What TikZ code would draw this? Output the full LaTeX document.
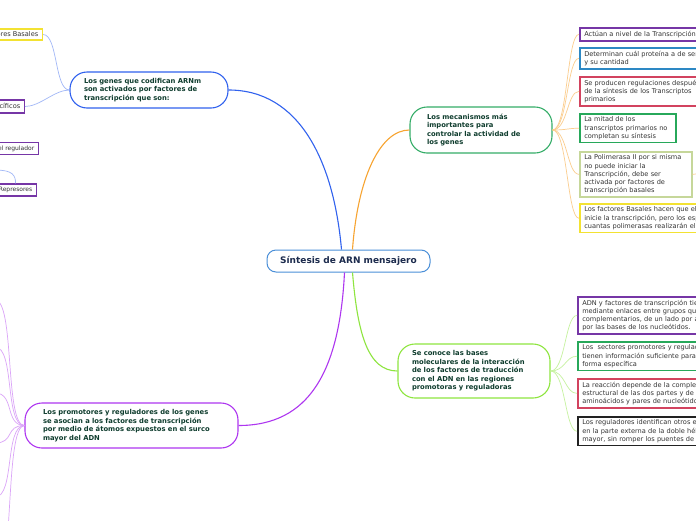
\documentclass[tikz,border=0pt]{standalone}
\usepackage{fontspec}
\setmainfont{DejaVu Sans}
\usepackage{xcolor}
\usetikzlibrary{positioning}
\definecolor{txtcol}{HTML}{333333}
\definecolor{topiccol}{HTML}{0F3D2E}
\definecolor{rootcol}{HTML}{1C2B4D}
\definecolor{rootline}{HTML}{4A8FD8}
\definecolor{bluecol}{HTML}{3162EE}
\definecolor{orangecol}{HTML}{F7A431}
\definecolor{limecol}{HTML}{8EE53F}
\definecolor{violetcol}{HTML}{AE36F0}
\definecolor{greencol}{HTML}{35AD68}
\definecolor{purplecol}{HTML}{7636A6}
\definecolor{skycol}{HTML}{2D88C4}
\definecolor{redcol}{HTML}{D2435F}
\definecolor{mintcol}{HTML}{27A85A}
\definecolor{olivecol}{HTML}{C6D79A}
\definecolor{yellowcol}{HTML}{F3E232}
\definecolor{blackcol}{HTML}{222222}

\begin{document}
\begin{tikzpicture}[
  x=1pt, y=-1pt,
  root/.style={
    draw=rootline, fill=white, line width=1pt,
    rounded corners=9pt, minimum width=163pt, minimum height=22pt,
    font=\fontsize{9}{11}\selectfont\bfseries, text=rootcol,
  },
  topic/.style={
    draw=#1, fill=white, line width=1.1pt,
    rounded corners=17pt, align=left,
    font=\fontsize{6.8}{8.5}\selectfont\bfseries, text=topiccol,
  },
  leaf/.style={
    draw=#1, fill=white, line width=1.5pt,
    inner xsep=4.5pt, inner ysep=3.2pt, anchor=north west, align=left,
    text width=150pt, font=\fontsize{6.6}{8.1}\selectfont, text=txtcol,
  },
  sideleaf/.style={
    draw=#1, fill=white, line width=1.5pt,
    inner xsep=4pt, inner ysep=3pt, anchor=east,
    font=\fontsize{6.6}{8}\selectfont, text=txtcol,
  },
  main/.style={draw=#1, line width=1.1pt},
  twig/.style={draw=#1, line width=0.7pt},
]

\useasboundingbox (0,0) rectangle (696,520);
\fill[white] (0,0) rectangle (696,520);
\clip (0,0) rectangle (696,520);

% =================== ROOT ===================
\node[root] (root) at (348.5,261) {Síntesis de ARN mensajero};

% =================== TOPICS ===================
\node[topic=bluecol, text width=130pt, inner xsep=14pt, minimum height=36pt] (genes) at (149,90)
  {Los genes que codifican ARNm\\son activados por factores de\\transcripción que son:};
\node[topic=greencol, text width=108pt, inner xsep=17pt, minimum height=46pt] (meca) at (481,130)
  {Los mecanismos más\\importantes para\\controlar la actividad de\\los genes};
\node[topic=limecol, text width=124pt, inner xsep=14pt, minimum height=54pt] (bases) at (474,371)
  {Se conoce las bases\\moleculares de la interacción\\de los factores de traducción\\con el ADN en las regiones\\promotoras y reguladoras};
\node[topic=violetcol, text width=177pt, inner xsep=18pt, minimum height=45pt] (promo) at (131.5,425.5)
  {Los promotores y reguladores de los genes\\se asocian a los factores de transcripción\\por medio de átomos expuestos en el surco\\mayor del ADN};

\draw[main=bluecol] ([xshift=-7pt]root.north) .. controls +(-8,-90) and +(70,0) .. (genes.east);
\draw[main=orangecol] ([xshift=4pt]root.north) .. controls +(5,-70) and +(-30,0) .. (meca.west);
\draw[main=limecol] ([xshift=4pt]root.south) .. controls +(5,60) and +(-30,0) .. (bases.west);
\draw[main=violetcol] ([xshift=-4pt]root.south) .. controls +(-5,100) and +(70,0) .. (promo.east);

% =================== MECANISMOS ===================
\node[leaf=purplecol] (meca1) at (579,27) {Actúan a nivel de la Transcripción};
\node[leaf=skycol] (meca2) at (579,47) {Determinan cuál proteína a de ser\\y su cantidad};
\node[leaf=redcol] (meca3) at (579,76) {Se producen regulaciones después\\de la síntesis de los Transcriptos\\primarios};
\node[leaf=mintcol, text width=87pt] (meca4) at (579,113) {La mitad de los\\transcriptos primarios no\\completan su síntesis};
\node[leaf=olivecol, text width=103pt] (meca5) at (579,151) {La Polimerasa II por si misma\\no puede iniciar la\\Transcripción, debe ser\\activada por factores de\\transcripción basales};
\node[leaf=yellowcol] (meca6) at (579,203) {Los factores Basales hacen que el\\inicie la transcripción, pero los esp\\cuantas polimerasas realizarán el t};
\coordinate (meca5x) at (705,173);

\draw[twig=orangecol!55] (meca.east) .. controls +(15,0) and +(-12,0) .. (meca1.west);
\draw[twig=orangecol!55] (meca.east) .. controls +(15,0) and +(-12,0) .. (meca2.west);
\draw[twig=orangecol!55] (meca.east) .. controls +(15,0) and +(-12,0) .. (meca3.west);
\draw[twig=orangecol!55] (meca.east) .. controls +(15,0) and +(-12,0) .. (meca4.west);
\draw[twig=orangecol!55] (meca.east) .. controls +(15,0) and +(-12,0) .. (meca5.west);
\draw[twig=orangecol!55] (meca.east) .. controls +(15,0) and +(-12,0) .. (meca6.west);
\draw[twig=orangecol!55] (meca5.east) -- (meca5x);

% =================== BASES ===================
\node[leaf=purplecol] (bases1) at (577,296) {ADN y factores de transcripción tie\\mediante enlaces entre grupos quí\\complementarios, de un lado por a\\por las bases de los nucleótidos.};
\node[leaf=mintcol] (bases2) at (577,341) {Los\ \ sectores promotores y regulad\\tienen información suficiente para\\forma específica};
\node[leaf=redcol] (bases3) at (577,378) {La reacción depende de la complem\\estructural de las dos partes y de l\\aminoácidos y pares de nucleótidos};
\node[leaf=blackcol] (bases4) at (577,416) {Los reguladores identifican otros el\\en la parte externa de la doble héli\\mayor, sin romper los puentes de h};

\draw[twig=limecol!50] (bases.east) .. controls +(15,0) and +(-12,0) .. (bases1.west);
\draw[twig=limecol!50] (bases.east) .. controls +(15,0) and +(-12,0) .. (bases2.west);
\draw[twig=limecol!50] (bases.east) .. controls +(15,0) and +(-12,0) .. (bases3.west);
\draw[twig=limecol!50] (bases.east) .. controls +(15,0) and +(-12,0) .. (bases4.west);

% =================== GENES ===================
\node[sideleaf=yellowcol] (basales) at (43,34.5) {Factores Basales};
\node[sideleaf=purplecol] (especificos) at (25,106.5) {Factores Específicos};
\node[sideleaf=purplecol, font=\fontsize{6}{7}\selectfont] (regulador) at (39,148.5) {Proteína del regulador};
\node[sideleaf=purplecol, font=\fontsize{6}{7}\selectfont] (represores) at (37,190) {Represores};
\coordinate (represin) at (-5,170);

\draw[twig=bluecol!45] (genes.west) .. controls +(-15,0) and +(15,0) .. (basales.east);
\draw[twig=bluecol!45] (genes.west) .. controls +(-15,0) and +(15,0) .. (especificos.east);
\draw[twig=bluecol!45] (represin) .. controls +(18,0) and +(0,-8) .. (represores.north);

% =================== PROMOTORES ===================
\coordinate (promo1) at (-5,300);
\coordinate (promo2) at (-5,347);
\coordinate (promo3) at (-5,393);
\coordinate (promo4) at (-5,443);
\coordinate (promo5) at (-5,497);
\coordinate (promo6) at (-5,580);

\draw[twig=violetcol!45] (promo.west) .. controls +(-20,0) and +(20,0) .. (promo1);
\draw[twig=violetcol!45] (promo.west) .. controls +(-20,0) and +(20,0) .. (promo2);
\draw[twig=violetcol!45] (promo.west) .. controls +(-20,0) and +(20,0) .. (promo3);
\draw[twig=violetcol!45] (promo.west) .. controls +(-20,0) and +(20,0) .. (promo4);
\draw[twig=violetcol!45] (promo.west) .. controls +(-20,0) and +(20,0) .. (promo5);
\draw[twig=violetcol!45] (promo.west) .. controls +(-20,0) and +(20,0) .. (promo6);

\end{tikzpicture}
\end{document}
